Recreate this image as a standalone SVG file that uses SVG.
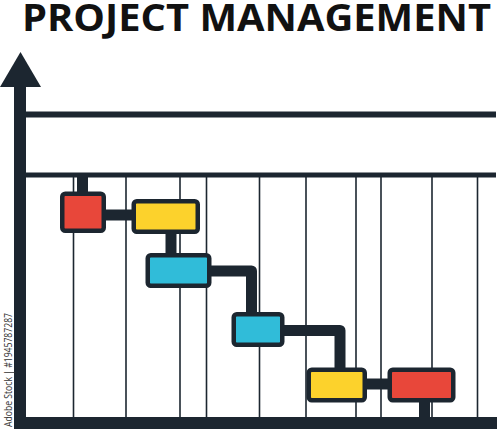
<svg xmlns="http://www.w3.org/2000/svg" width="500" height="429" viewBox="0 0 500 429">
<style>
.title{font-family:"Open Sans","Noto Sans","Liberation Sans",sans-serif;font-weight:700;font-size:37px;fill:#111}
.ax{fill:#1c2630}
.grid{stroke:#1c2630;stroke-width:1.6}
.box{stroke:#1c2630;stroke-width:4.5}
.conn{fill:none;stroke:#1c2630;stroke-width:11;stroke-linejoin:round}
.wm{font-family:"Open Sans","Liberation Sans",sans-serif;font-size:11px;fill:#333}
</style>
<rect width="500" height="429" fill="#fff"/>
<text class="title" x="22" y="30.5" textLength="469" lengthAdjust="spacingAndGlyphs">PROJECT MANAGEMENT</text>
<g id="grid">
<line class="grid" x1="73.5" y1="176" x2="73.5" y2="418"/>
<line class="grid" x1="126" y1="176" x2="126" y2="418"/>
<line class="grid" x1="180" y1="176" x2="180" y2="418"/>
<line class="grid" x1="206.5" y1="176" x2="206.5" y2="418"/>
<line class="grid" x1="259.5" y1="176" x2="259.5" y2="418"/>
<line class="grid" x1="306" y1="176" x2="306" y2="418"/>
<line class="grid" x1="356" y1="176" x2="356" y2="418"/>
<line class="grid" x1="381" y1="176" x2="381" y2="418"/>
<line class="grid" x1="432" y1="176" x2="432" y2="418"/>
<line class="grid" x1="477.5" y1="176" x2="477.5" y2="418"/>
</g>
<g id="axes">
<rect class="ax" x="14" y="84" width="12" height="345"/>
<polygon class="ax" points="0,87 20.5,52 41,87"/>
<rect class="ax" x="20" y="111.5" width="476" height="6"/>
<rect class="ax" x="20" y="172.5" width="476" height="5"/>
<rect class="ax" x="14" y="417" width="483" height="12"/>
</g>
<g id="connectors">
<line class="conn" x1="82.5" y1="176" x2="82.5" y2="194"/>
<line class="conn" x1="104" y1="215" x2="134" y2="215"/>
<line class="conn" x1="171" y1="232" x2="171" y2="256"/>
<path class="conn" d="M209,271 H251.5 V314"/>
<path class="conn" d="M282,330.5 H340 V370"/>
<line class="conn" x1="364" y1="384" x2="390" y2="384"/>
<line class="conn" x1="424.5" y1="400" x2="424.5" y2="418"/>
</g>
<g id="task1"><rect class="box" x="62.25" y="193.75" width="41.5" height="37" rx="3" fill="#e8473a"/></g>
<g id="task2"><rect class="box" x="133.75" y="201.25" width="64" height="30.5" rx="3" fill="#fcd22c"/></g>
<g id="task3"><rect class="box" x="147.75" y="255.25" width="61.5" height="30.5" rx="3" fill="#30bcd9"/></g>
<g id="task4"><rect class="box" x="233.75" y="314.25" width="48.5" height="30.5" rx="3" fill="#30bcd9"/></g>
<g id="task5"><rect class="box" x="308.75" y="369.75" width="56" height="30.5" rx="3" fill="#fcd22c"/></g>
<g id="task6"><rect class="box" x="389.75" y="369.75" width="63.5" height="30.5" rx="3" fill="#e8473a"/></g>
<text class="wm" transform="translate(12,427) rotate(-90)" textLength="114" lengthAdjust="spacingAndGlyphs">Adobe Stock | #1945787287</text>
</svg>
